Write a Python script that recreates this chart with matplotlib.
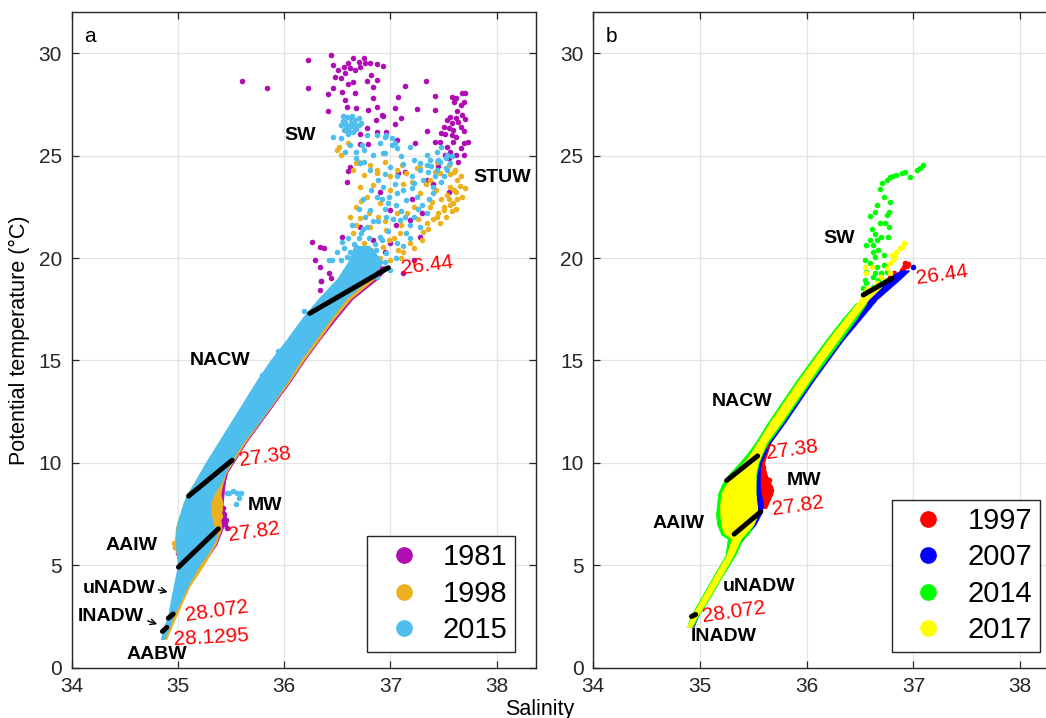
import matplotlib
matplotlib.use('Agg')
import matplotlib.pyplot as plt
from matplotlib.lines import Line2D

plt.rcParams['font.family'] = ['Liberation Sans', 'DejaVu Sans']

# ---------------- panel a : 1981 / 1998 / 2015 ----------------
# dense core of each cloud: temperature levels with left / right salinity edges
a81_t = [1.5, 2.5, 4.0, 5.0, 6.0, 6.8, 7.2, 7.6, 8.0, 8.5, 9.0, 9.5, 10.0, 11.0, 12.0, 13.0, 14.0, 15.0, 16.0, 17.0, 18.0, 19.0, 19.6]
a81_l = [34.85, 34.92, 34.97, 35.01, 35.00, 35.02, 35.02, 35.04, 35.06, 35.10, 35.16, 35.21, 35.27, 35.39, 35.51, 35.63, 35.75, 35.88, 36.03, 36.17, 36.33, 36.53, 36.62]
a81_r = [34.88, 34.97, 35.10, 35.23, 35.36, 35.42, 35.46, 35.44, 35.42, 35.43, 35.44, 35.46, 35.52, 35.64, 35.78, 35.92, 36.06, 36.19, 36.33, 36.48, 36.64, 36.88, 36.98]

a98_t = [1.4, 2.5, 4.0, 5.0, 6.0, 6.8, 7.2, 7.6, 8.0, 8.5, 9.0, 9.5, 10.0, 11.0, 12.0, 13.0, 14.0, 15.0, 16.0, 17.0, 18.0, 19.0]
a98_l = [34.85, 34.92, 34.97, 35.01, 34.97, 34.98, 35.00, 35.03, 35.05, 35.09, 35.15, 35.21, 35.27, 35.39, 35.51, 35.63, 35.75, 35.88, 36.03, 36.17, 36.33, 36.52]
a98_r = [34.89, 34.98, 35.11, 35.24, 35.35, 35.41, 35.40, 35.41, 35.42, 35.40, 35.42, 35.45, 35.51, 35.63, 35.77, 35.91, 36.05, 36.18, 36.32, 36.46, 36.62, 36.85]

a15_t = [1.4, 2.0, 2.6, 3.2, 4.0, 5.0, 5.5, 6.0, 6.5, 7.0, 7.5, 8.0, 8.5, 9.0, 10.0, 11.0, 12.0, 13.0, 14.0, 15.0, 16.0, 17.0, 18.0, 19.0, 19.8, 20.6]
a15_l = [34.84, 34.87, 34.91, 34.93, 34.96, 35.00, 34.99, 34.98, 34.98, 34.99, 35.02, 35.05, 35.09, 35.15, 35.26, 35.38, 35.50, 35.62, 35.74, 35.87, 36.02, 36.16, 36.32, 36.50, 36.60, 36.66]
a15_r = [34.87, 34.92, 34.96, 35.02, 35.09, 35.20, 35.27, 35.33, 35.37, 35.33, 35.31, 35.30, 35.34, 35.40, 35.49, 35.61, 35.76, 35.90, 36.03, 36.15, 36.29, 36.43, 36.58, 36.80, 36.93, 36.80]

# scattered points (salinity, temperature)
a81_pts = [(35.60, 28.65), (35.84, 28.29), (36.22, 29.66), (36.22, 28.32), (36.41, 28.00), (36.41, 27.18), (36.44, 29.92),
           (36.46, 29.43), (36.51, 29.18), (36.56, 29.35), (36.60, 29.51), (36.65, 29.75), (36.70, 29.59), (36.75, 29.75),
           (36.81, 29.51), (36.87, 29.46), (36.93, 29.40), (36.48, 28.86), (36.53, 28.78), (36.57, 29.02), (36.62, 29.27),
           (36.67, 29.18), (36.71, 29.35), (36.76, 29.51), (36.82, 28.94), (36.78, 28.65), (36.87, 28.70), (36.65, 28.58),
           (36.60, 28.48), (36.54, 28.13), (36.46, 28.32), (36.67, 28.05), (36.84, 28.37), (37.14, 28.42), (36.57, 27.72),
           (36.59, 27.39), (36.68, 27.31), (36.79, 27.23), (36.87, 27.39), (36.84, 27.83), (37.07, 27.88), (37.04, 27.31),
           (36.92, 26.99), (36.86, 26.74), (37.10, 26.86), (37.04, 26.53), (36.78, 26.34), (36.87, 26.17), (36.71, 26.04),
           (36.71, 25.55), (36.79, 25.55), (36.60, 26.14), (36.96, 26.17), (37.06, 25.77), (36.60, 24.25), (37.14, 24.22),
           (37.33, 28.65), (37.42, 27.93), (37.25, 27.26), (37.42, 27.23), (36.93, 26.95), (37.34, 26.21), (37.23, 25.64),
           (37.42, 25.68), (37.58, 27.88), (37.62, 27.80), (37.67, 28.05), (37.70, 28.08), (37.60, 27.64), (37.66, 27.48),
           (37.69, 27.61), (37.63, 27.18), (37.67, 26.99), (37.62, 26.86), (37.56, 26.91), (37.53, 26.74), (37.58, 26.58),
           (37.64, 26.63), (37.70, 26.79), (37.50, 26.42), (37.55, 26.34), (37.59, 26.25), (37.66, 26.42), (37.69, 26.21),
           (37.51, 26.04), (37.58, 26.01), (37.62, 25.93), (37.48, 26.09), (37.47, 25.68), (37.53, 25.44), (37.59, 25.68),
           (37.69, 25.60), (37.73, 25.68), (37.66, 25.36), (37.56, 25.20), (37.62, 25.03), (37.69, 25.03), (37.64, 24.71),
           (37.51, 25.03), (36.26, 20.80), (36.37, 20.48), (36.34, 19.58), (36.35, 18.90), (36.54, 21.05), (36.59, 23.73),
           (36.62, 24.46), (37.07, 24.14), (36.90, 23.24), (36.71, 21.53), (37.00, 22.35), (37.18, 21.86), (37.22, 19.91),
           (37.00, 20.72), (36.84, 20.88), (37.28, 21.05), (37.12, 19.26), (37.34, 23.81), (37.55, 23.24), (36.34, 20.53),
           (36.29, 19.91), (36.42, 19.26), (36.44, 19.04), (36.38, 18.11), (36.34, 18.44), (36.35, 18.88), (36.43, 18.09),
           (37.45, 24.50), (37.55, 24.90), (37.40, 23.60), (37.20, 22.90), (37.05, 21.60), (36.95, 20.30), (37.30, 22.20),
           (35.43, 7.50), (35.45, 7.20), (35.42, 7.80), (35.44, 7.00), (35.40, 8.30), (35.46, 6.80), (35.41, 9.00),
           (35.43, 9.40), (34.97, 5.90), (35.00, 5.60)]

a98_pts = [(36.50, 25.28), (36.53, 25.03), (36.68, 24.63), (36.81, 24.55), (36.87, 24.30), (37.11, 24.55), (37.44, 24.71),
           (37.55, 24.55), (37.61, 24.30), (37.25, 24.38), (37.37, 23.81), (37.47, 24.14), (37.56, 23.49), (37.62, 23.24),
           (37.67, 23.00), (37.59, 22.67), (37.50, 22.35), (37.44, 22.02), (37.34, 21.70), (37.31, 21.29), (37.39, 22.76),
           (37.53, 23.08), (37.28, 23.16), (37.22, 22.51), (37.15, 24.14), (37.06, 24.30), (36.87, 24.14), (36.75, 24.06),
           (36.71, 23.49), (36.78, 23.00), (36.90, 22.67), (36.68, 22.51), (36.71, 21.94), (36.65, 21.21), (36.81, 21.53),
           (36.96, 21.37), (37.09, 21.21), (37.18, 20.72), (37.12, 20.31), (37.00, 19.91), (36.87, 19.58), (36.78, 19.91),
           (36.75, 20.72), (36.93, 20.56), (37.06, 22.19), (37.28, 24.38), (37.00, 23.33), (36.84, 23.57), (37.60, 24.20),
           (37.63, 23.80), (37.65, 23.50), (37.60, 23.30), (37.55, 22.90), (37.50, 22.50), (37.45, 22.20), (37.40, 21.90),
           (37.63, 22.90), (37.58, 22.30), (37.52, 22.00), (37.47, 21.70), (37.35, 21.40), (37.30, 20.90), (37.22, 20.50),
           (37.10, 20.00), (36.72, 22.80), (36.80, 22.20), (36.88, 22.00), (36.95, 21.80), (37.03, 21.00), (37.10, 21.60),
           (37.16, 22.20), (37.20, 23.70), (37.12, 23.60), (37.33, 23.60), (37.43, 23.30), (37.48, 22.90), (37.56, 22.60),
           (37.62, 22.40), (37.66, 24.00), (37.56, 24.10), (37.42, 24.20), (37.70, 23.40), (36.65, 24.30), (36.70, 24.70),
           (36.95, 24.70), (37.00, 24.00), (36.62, 22.00), (36.68, 21.60), (36.90, 20.00), (37.07, 20.40), (36.99, 20.90),
           (36.82, 20.40), (37.26, 21.90), (37.37, 22.50), (36.52, 25.40), (36.60, 25.60),
           (35.33, 8.30), (35.36, 8.10), (35.32, 7.80), (35.35, 7.60), (35.38, 7.90), (35.40, 7.40),
           (35.33, 7.30), (35.37, 7.20), (35.30, 7.70), (35.38, 9.50), (35.40, 9.20), (34.96, 6.07), (34.97, 5.91),
           (34.99, 6.27), (35.00, 5.75)]

a15_pts = [(36.57, 26.66), (36.62, 26.83), (36.67, 26.74), (36.70, 26.50), (36.60, 26.42), (36.56, 26.25), (36.65, 26.17),
           (36.53, 26.50), (36.46, 25.93), (36.62, 25.52), (36.57, 25.20), (36.68, 25.20), (36.73, 25.52), (36.84, 25.03),
           (36.78, 26.01), (36.87, 26.01), (36.95, 25.93), (37.01, 25.52), (37.06, 25.36), (36.53, 25.85), (36.75, 24.71),
           (36.95, 25.12), (36.59, 26.90), (36.63, 26.60), (36.58, 26.50), (36.66, 26.40), (36.61, 26.20), (36.55, 26.70),
           (36.58, 26.30), (36.64, 26.95), (36.68, 26.30), (36.72, 26.60), (36.60, 26.05), (36.66, 26.55), (36.55, 26.95),
           (36.62, 26.45), (36.70, 26.85), (36.96, 26.01),
           (37.01, 25.85), (37.04, 25.60), (36.93, 25.12), (37.18, 25.44), (37.34, 25.03), (37.44, 25.20), (37.48, 25.44),
           (37.53, 25.03), (37.45, 24.79), (37.37, 24.79), (37.28, 24.63), (37.56, 24.63), (37.52, 24.38), (36.71, 24.63),
           (36.81, 24.30), (37.00, 24.46), (37.34, 24.55), (37.47, 24.71), (37.53, 24.30), (37.22, 23.65), (37.31, 23.81),
           (37.40, 23.49), (37.25, 23.00), (37.15, 22.84), (37.06, 23.16), (36.93, 23.49), (36.87, 23.00), (36.81, 22.35),
           (36.96, 22.02), (37.09, 21.86), (37.22, 22.02), (37.28, 21.53), (37.15, 21.21), (37.06, 20.72), (36.90, 21.05),
           (36.78, 21.53), (36.68, 20.56), (36.81, 20.23), (36.96, 20.23), (36.75, 19.58), (36.65, 19.42), (36.62, 18.93),
           (36.87, 19.09), (37.00, 19.42), (36.59, 20.07), (36.53, 19.91), (36.45, 19.91), (36.54, 20.80), (36.42, 19.91),
           (36.70, 20.00), (36.75, 20.40), (36.85, 20.70), (36.72, 21.20), (36.88, 21.80), (36.95, 22.40), (37.05, 22.60),
           (37.12, 23.30), (37.20, 24.00), (37.35, 24.20), (37.42, 24.00), (37.48, 23.70), (37.36, 22.90), (37.30, 22.60),
           (37.18, 21.60), (36.62, 20.30), (36.66, 20.70), (36.70, 21.00), (36.74, 21.40), (36.80, 21.00), (36.86, 20.40),
           (36.92, 20.90), (36.98, 21.30), (37.02, 21.90), (37.10, 22.30), (37.14, 22.00), (36.98, 22.70), (36.92, 22.90),
           (36.84, 21.80), (36.76, 22.00), (36.70, 22.40), (36.74, 22.90), (36.82, 23.30), (36.88, 23.80), (36.95, 24.10),
           (37.06, 24.00), (37.12, 24.60), (37.22, 24.80), (37.28, 24.30), (37.38, 24.50), (37.44, 24.30), (37.50, 24.00),
           (37.52, 24.90), (37.58, 25.00), (37.40, 23.20), (37.34, 22.20), (37.26, 22.40), (37.20, 23.40), (37.04, 23.60),
           (36.99, 23.00), (36.64, 21.60), (36.60, 21.00), (36.56, 20.50), (36.50, 20.30), (36.95, 19.80), (37.05, 20.00),
           (37.12, 20.60), (37.18, 21.00), (36.68, 24.90), (36.75, 25.30), (36.90, 25.60), (37.10, 25.00),
           (36.18, 16.82), (36.17, 16.33), (35.94, 15.48), (36.19, 17.42), (36.24, 16.77), (35.98, 15.46),
           (36.05, 15.43), (35.79, 14.29), (35.78, 13.80), (35.48, 8.52), (35.52, 8.63), (35.56, 8.55), (35.59, 8.55),
           (35.55, 7.99), (35.57, 8.29), (35.46, 8.55)]

# ---------------- panel b : 1997 / 2007 / 2014 / 2017 ----------------
b97_t = [7.8, 8.5, 9.0, 9.5, 10.0, 11.0, 12.0, 13.0, 14.0, 15.0, 16.0, 17.0, 18.0]
b97_l = [35.55, 35.55, 35.55, 35.54, 35.55, 35.60, 35.73, 35.86, 35.99, 36.13, 36.27, 36.42, 36.56]
b97_r = [35.62, 35.68, 35.66, 35.62, 35.60, 35.66, 35.79, 35.92, 36.05, 36.19, 36.33, 36.48, 36.62]

b07_t = [2.0, 3.0, 4.0, 5.0, 6.0, 7.0, 7.6, 8.0, 8.5, 9.0, 9.5, 10.0, 11.0, 12.0, 13.0, 14.0, 15.0, 16.0, 17.0, 18.0, 19.0, 19.4]
b07_l = [34.92, 34.99, 35.10, 35.21, 35.33, 35.48, 35.53, 35.52, 35.52, 35.52, 35.52, 35.53, 35.60, 35.73, 35.86, 35.99, 36.13, 36.27, 36.42, 36.57, 36.76, 36.88]
b07_r = [34.94, 35.02, 35.13, 35.24, 35.36, 35.52, 35.58, 35.59, 35.57, 35.56, 35.56, 35.57, 35.66, 35.80, 35.93, 36.06, 36.20, 36.34, 36.50, 36.66, 36.88, 36.96]

b14_t = [2.0, 2.5, 3.5, 4.5, 5.5, 6.3, 6.5, 7.0, 7.5, 8.0, 8.5, 9.0, 9.5, 10.0, 10.5, 11.0, 12.0, 13.0, 14.0, 15.0, 16.0, 17.0, 17.8]
b14_l = [34.88, 34.91, 35.02, 35.13, 35.24, 35.26, 35.20, 35.16, 35.15, 35.16, 35.17, 35.21, 35.28, 35.37, 35.45, 35.52, 35.64, 35.77, 35.90, 36.04, 36.18, 36.33, 36.46]
b14_r = [34.93, 34.98, 35.10, 35.21, 35.33, 35.40, 35.45, 35.50, 35.54, 35.53, 35.52, 35.52, 35.53, 35.55, 35.59, 35.64, 35.78, 35.91, 36.04, 36.18, 36.32, 36.46, 36.56]

b17_t = [2.0, 2.5, 3.5, 4.5, 5.5, 6.3, 6.6, 7.0, 7.5, 8.0, 8.5, 9.0, 9.5, 10.0, 10.5, 11.0, 12.0, 13.0, 14.0, 15.0, 16.0, 17.0, 18.0, 18.6]
b17_l = [34.88, 34.92, 35.03, 35.14, 35.25, 35.30, 35.22, 35.20, 35.19, 35.19, 35.20, 35.25, 35.31, 35.41, 35.48, 35.54, 35.66, 35.79, 35.92, 36.06, 36.20, 36.35, 36.50, 36.55]
b17_r = [34.92, 34.97, 35.09, 35.20, 35.31, 35.38, 35.43, 35.50, 35.54, 35.53, 35.52, 35.52, 35.52, 35.54, 35.58, 35.62, 35.76, 35.89, 36.02, 36.15, 36.29, 36.43, 36.58, 36.70]

b97_pts = [(36.92, 19.74), (36.94, 19.61), (36.91, 19.55), (36.95, 19.71), (36.89, 19.42), (36.82, 19.26), (36.78, 19.09),
           (35.60, 9.30), (35.62, 9.10), (35.64, 8.95), (35.66, 8.80), (35.63, 8.70), (35.66, 8.60), (35.60, 8.60),
           (35.64, 8.45), (35.58, 9.00), (35.62, 8.50), (35.67, 8.70), (35.57, 9.50), (35.59, 9.80), (35.65, 9.15), (35.61, 8.35)]
b07_pts = [(37.00, 19.55)]
b14_pts = [(37.09, 24.55), (37.06, 24.38), (37.03, 24.30), (36.97, 23.98), (36.92, 24.22), (36.89, 24.14), (36.81, 24.01),
           (36.78, 23.94), (36.75, 23.81), (36.71, 23.65), (36.69, 23.36), (36.72, 23.00), (36.78, 22.76), (36.77, 22.27),
           (36.75, 22.10), (36.66, 22.59), (36.64, 22.27), (36.59, 22.06), (36.73, 21.70), (36.77, 21.50), (36.69, 21.70),
           (36.61, 21.40), (36.64, 21.18), (36.70, 21.05), (36.76, 21.01), (36.59, 20.88), (36.66, 20.88), (36.56, 20.64),
           (36.62, 20.32), (36.67, 20.40), (36.72, 20.15), (36.64, 20.07), (36.55, 19.91), (36.59, 19.74), (36.66, 19.58),
           (36.70, 19.26), (36.64, 19.26), (36.56, 19.34), (36.62, 19.09), (36.67, 18.93), (36.56, 18.77), (36.62, 18.61),
           (36.55, 18.93), (36.53, 18.52), (36.58, 18.36), (36.75, 19.34), (36.72, 19.66), (36.62, 20.64), (36.84, 24.06),
           (36.53, 18.20), (36.54, 17.90)]
b17_pts = [(36.91, 20.72), (36.87, 20.48), (36.84, 20.32), (36.83, 20.07), (36.80, 20.15), (36.78, 19.74), (36.75, 19.50),
           (36.70, 19.09), (36.66, 18.77), (36.61, 19.58), (36.55, 19.58), (36.56, 19.26), (36.64, 18.61), (36.59, 18.44),
           (36.81, 19.91), (36.89, 20.56), (36.78, 19.26), (36.73, 18.93)]

# isopycnal segments: salinity pair, temperature pair, label, label position, label rotation
a_iso = [([36.24, 36.98], [17.30, 19.53], '26.44', (37.09, 19.65), 7),
         ([35.10, 35.51], [8.38, 10.13], '27.38', (35.56, 10.30), 8),
         ([35.005, 35.38], [4.91, 6.78], '27.82', (35.46, 6.65), 8),
         ([34.91, 34.955], [2.42, 2.62], '28.072', (35.06, 2.75), 8),
         ([34.854, 34.895], [1.77, 1.97], '28.1295', (34.96, 1.45), 3)]
b_iso = [([36.53, 36.80], [18.20, 19.01], '26.44', (37.01, 19.20), 8),
         ([35.25, 35.54], [9.14, 10.34], '27.38', (35.61, 10.65), 8),
         ([35.32, 35.57], [6.52, 7.62], '27.82', (35.66, 7.92), 8),
         ([34.92, 34.96], [2.50, 2.60], '28.072', (35.01, 2.72), 8)]

a_water = [('SW', 36.15, 26.0), ('STUW', 38.05, 23.95), ('NACW', 35.40, 15.02), ('MW', 35.82, 7.94),
           ('AAIW', 34.56, 5.99), ('uNADW', 34.45, 3.89), ('INADW', 34.37, 2.50), ('AABW', 34.80, 0.63)]
b_water = [('SW', 36.30, 20.97), ('NACW', 35.39, 12.99), ('MW', 35.97, 9.12),
           ('AAIW', 34.80, 7.02), ('uNADW', 35.55, 3.95), ('INADW', 35.22, 1.51)]

years_a = ['1981', '1998', '2015']
colors_a = ['#B10DB5', '#EDB120', '#4DBEEE']
years_b = ['1997', '2007', '2014', '2017']
colors_b = ['#FF0000', '#0000FF', '#00FF00', '#FFFF00']

FG = '#262626'


def style(ax, label):
    ax.set_xlim(34, 38.37); ax.set_ylim(0, 32)
    ax.set_xticks([34, 35, 36, 37, 38]); ax.set_yticks([0, 5, 10, 15, 20, 25, 30])
    ax.grid(True, color='#E3E3E3', lw=0.9); ax.set_axisbelow(True)
    ax.tick_params(direction='in', top=True, right=True, length=5, width=0.9,
                   labelsize=15, colors=FG, pad=7)
    for sp in ax.spines.values(): sp.set_color(FG); sp.set_linewidth(1.0)
    ax.text(34.12, 30.8, label, fontsize=15, color='black', va='center')


def draw_year(ax, t, l, r, pts, c, z):
    ax.fill_betweenx(t, l, r, color=c, edgecolor=c, lw=0.6, zorder=z)
    if pts:
        ax.scatter([p[0] for p in pts], [p[1] for p in pts], s=16, color=c, lw=0, zorder=z)


def draw_iso(ax, iso):
    for s, t, txt, pos, rot in iso:
        ax.plot(s, t, color='black', lw=3.6, solid_capstyle='round', zorder=10)
        ax.text(pos[0], pos[1], txt, color='#FF0000', fontsize=15, rotation=rot,
                ha='left', va='center', zorder=11)


def draw_water(ax, water):
    for txt, s, t in water:
        ax.text(s, t, txt, fontsize=14, fontweight='bold', ha='center', va='center',
                zorder=11, clip_on=False)


def add_legend(ax, yrs, cols, right):
    handles = [Line2D([], [], ls='', marker='o', ms=11, color=c, label=y) for y, c in zip(yrs, cols)]
    leg = ax.legend(handles=handles, loc='lower right', bbox_to_anchor=(right, 0.0244),
                    borderaxespad=0, fontsize=21, frameon=True, fancybox=False,
                    framealpha=1, edgecolor=FG, handlelength=2.0, handletextpad=0.35,
                    labelspacing=0.29, borderpad=0.25)
    leg.get_frame().set_linewidth(1.0)
    leg.set_zorder(20)


fig = plt.figure(figsize=(10.46, 7.18), dpi=100)
axa = fig.add_axes([71.7/1046, 50.3/718, 464.3/1046, 655.4/718])
axb = fig.add_axes([593.3/1046, 50.3/718, 466.3/1046, 655.4/718])

# panel a
style(axa, 'a')
draw_year(axa, a81_t, a81_l, a81_r, a81_pts, colors_a[0], 2)
draw_year(axa, a98_t, a98_l, a98_r, a98_pts, colors_a[1], 3)
draw_year(axa, a15_t, a15_l, a15_r, a15_pts, colors_a[2], 4)
draw_iso(axa, a_iso)
draw_water(axa, a_water)
axa.annotate('', xy=(34.93, 3.66), xytext=(34.79, 3.84),
             arrowprops=dict(arrowstyle='->', color='black', lw=1.0), zorder=11)
axa.annotate('', xy=(34.83, 2.08), xytext=(34.69, 2.33),
             arrowprops=dict(arrowstyle='->', color='black', lw=1.0), zorder=11)
axa.set_ylabel('Potential temperature (\u00b0C)', fontsize=15.5, color='black', labelpad=6)
add_legend(axa, years_a, colors_a, 0.9547)

# panel b
style(axb, 'b')
draw_year(axb, b97_t, b97_l, b97_r, b97_pts, colors_b[0], 2)
draw_year(axb, b07_t, b07_l, b07_r, b07_pts, colors_b[1], 3)
draw_year(axb, b14_t, b14_l, b14_r, b14_pts, colors_b[2], 4)
draw_year(axb, b17_t, b17_l, b17_r, b17_pts, colors_b[3], 5)
draw_iso(axb, b_iso)
draw_water(axb, b_water)
add_legend(axb, years_b, colors_b, 0.9575)

fig.text(540/1046, 1 - 709/718, 'Salinity', fontsize=15.5, ha='center', va='center')

fig.savefig('out.png', dpi=100)
